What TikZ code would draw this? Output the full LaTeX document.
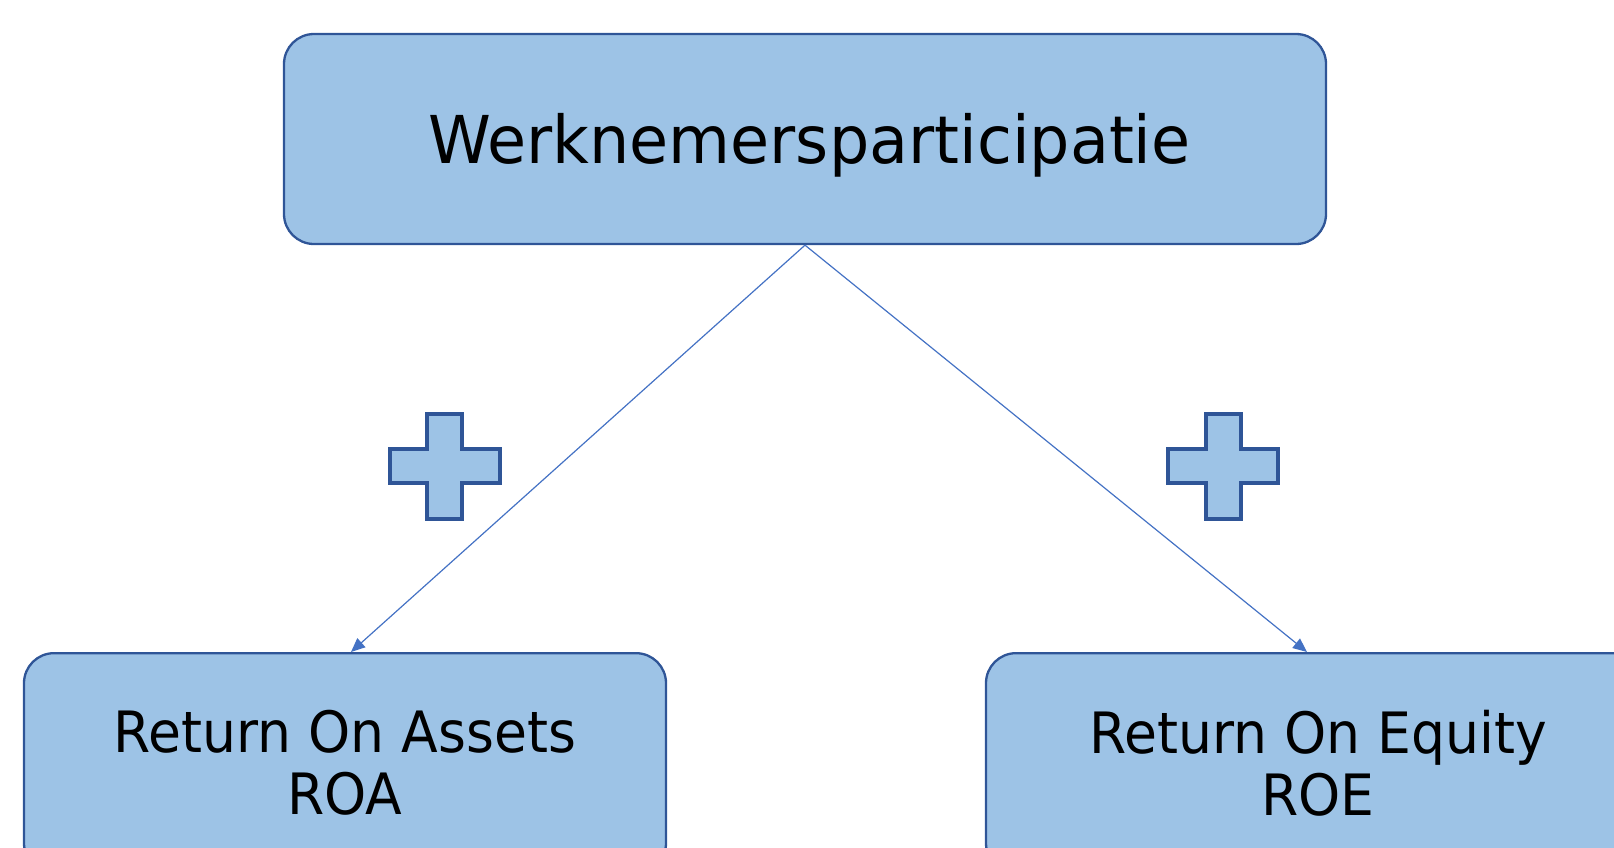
\documentclass[tikz,border=0pt]{standalone}
\usepackage{fontspec}
\setmainfont{DejaVu Sans}[FakeStretch=0.94]
\newfontfamily\topfont{DejaVu Sans}[FakeStretch=0.963]
\usetikzlibrary{arrows.meta,calc}
\definecolor{boxfill}{HTML}{9DC3E6}
\definecolor{boxline}{HTML}{2F5597}
\definecolor{arrowcol}{HTML}{4472C4}
\tikzset{
  rbox/.style={draw=boxline, fill=boxfill, line width=2.3pt, rounded corners=30pt, inner sep=0pt},
  conn/.style={draw=arrowcol, line width=1.2pt, -{Triangle[length=14pt,width=12pt]}},
  plusshape/.style={draw=boxline, fill=boxfill, line width=3.6pt},
}
\begin{document}
\begin{tikzpicture}[x=1pt,y=-1pt]
\useasboundingbox (0,0) rectangle (1614,847);
\begin{scope}
\clip (0,0) rectangle (1614,847);
\node[rbox, minimum width=1042pt, minimum height=210pt, text height=48pt, text depth=0pt,
      font=\topfont\fontsize{66}{72}\selectfont] (top) at (805,139) {\hspace*{9pt}Werknemersparticipatie};
\node[rbox, minimum width=642pt, minimum height=220pt, anchor=north, align=center,
      font=\fontsize{57}{62}\selectfont] (roa) at (345,652) {Return On Assets\\ROA};
\node[rbox, minimum width=664pt, minimum height=220pt, anchor=north, align=center,
      font=\fontsize{57}{62}\selectfont] (roe) at (1318,652) {Return On Equity\\ROE};
\end{scope}
\draw[conn] (top.south) -- ([xshift=6pt]roa.north);
\draw[conn] (top.south) -- ([xshift=-11pt]roe.north);
\draw[plusshape] (427,414) -- (462,414) -- (462,449) -- (500,449) -- (500,483) -- (462,483)
  -- (462,519) -- (427,519) -- (427,483) -- (390,483) -- (390,449) -- (427,449) -- cycle;
\draw[plusshape] (1206,414) -- (1241,414) -- (1241,449) -- (1278,449) -- (1278,483) -- (1241,483)
  -- (1241,519) -- (1206,519) -- (1206,483) -- (1168,483) -- (1168,449) -- (1206,449) -- cycle;
\end{tikzpicture}
\end{document}
